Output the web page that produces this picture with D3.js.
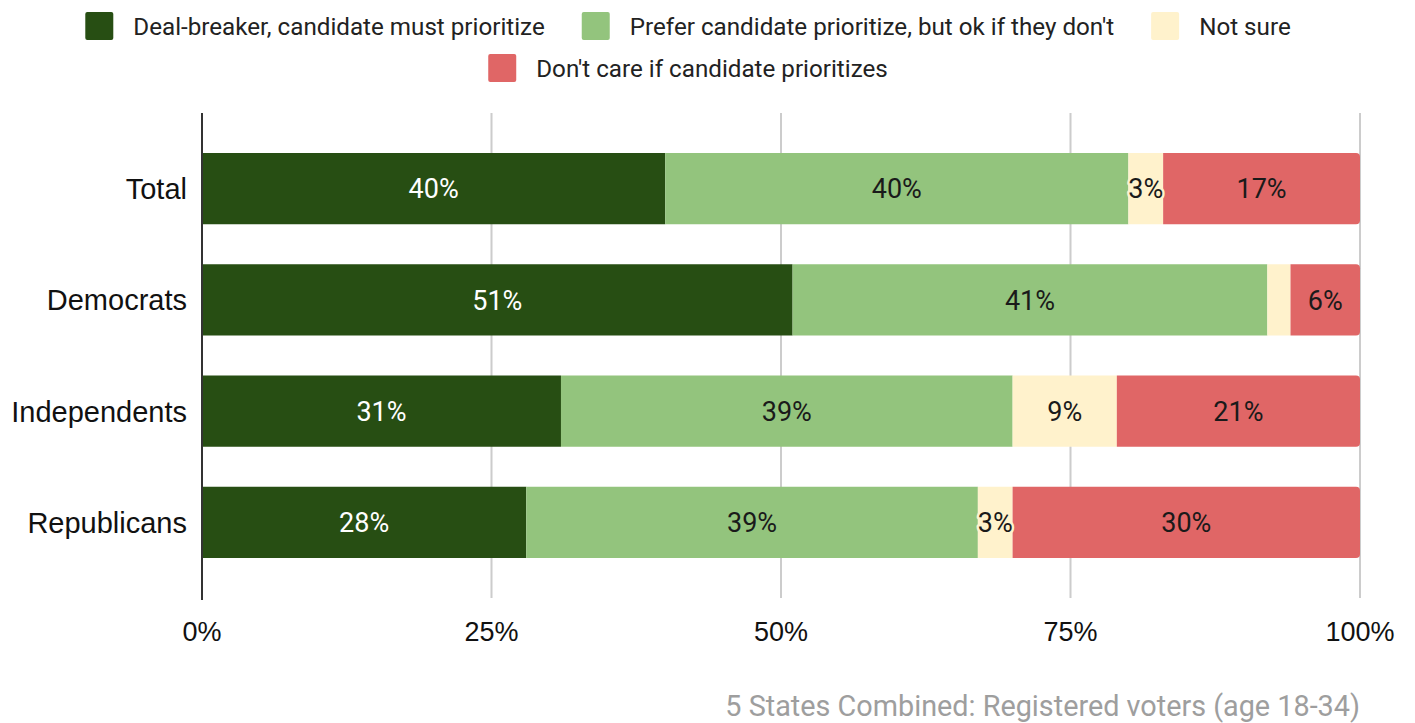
<!DOCTYPE html>
<html>
<head>
<meta charset="utf-8">
<script src="https://cdn.jsdelivr.net/npm/d3@7"></script>
<style>
  html, body { margin: 0; padding: 0; background: #fff; }
  svg { display: block; font-family: Roboto, "Noto Sans", sans-serif; }
</style>
</head>
<body>
<svg id="chart" width="1415" height="723"></svg>
<script>
// Survey groups (rows) and response options (stacked segments)
const groups = ["Total", "Democrats", "Independents", "Republicans"];
const seriesNames = [
  "Deal-breaker, candidate must prioritize",
  "Prefer candidate prioritize, but ok if they don't",
  "Not sure",
  "Don't care if candidate prioritizes"
];
const dealBreaker = [40, 51, 31, 28];
const preferPrioritize = [40, 41, 39, 39];
const notSure = [3, 2, 9, 3];
const dontCare = [17, 6, 21, 30];
const xTicks = [0, 25, 50, 75, 100];
const colors = ["#274e13", "#93c47d", "#fff2cc", "#e06666"];
const labelColors = ["#ffffff", "#1a1a1a", "#1a1a1a", "#1a1a1a"];
const footnote = "5 States Combined: Registered voters (age 18-34)";

const seriesValues = [dealBreaker, preferPrioritize, notSure, dontCare];
const rows = groups.map((g, i) => {
  const r = { group: g };
  seriesNames.forEach((s, k) => { r[s] = seriesValues[k][i]; });
  return r;
});
const stacked = d3.stack().keys(seriesNames)(rows);

const svg = d3.select("#chart");
const plotLeft = 202, plotRight = 1360, plotTop = 113, plotBottom = 598;
const axisFont = "Arial, 'Liberation Sans', sans-serif";

const x = d3.scaleLinear().domain([0, 100]).range([plotLeft, plotRight]);
const y = d3.scaleBand().domain(groups).range([plotTop, plotBottom]).paddingInner(0.36).paddingOuter(0.36);

// Vertical gridlines
svg.append("g").selectAll("line").data(xTicks.filter(t => t > 0)).join("line")
  .attr("x1", d => x(d)).attr("x2", d => x(d))
  .attr("y1", plotTop).attr("y2", plotBottom)
  .attr("stroke", "#cccccc").attr("stroke-width", 2);

// Bars
const radius = 4;
function segPath(x0, x1, y0, h, roundRight) {
  if (!roundRight) return `M${x0},${y0}H${x1}V${y0 + h}H${x0}Z`;
  const r = Math.min(radius, (x1 - x0));
  return `M${x0},${y0}H${x1 - r}Q${x1},${y0} ${x1},${y0 + r}V${y0 + h - r}Q${x1},${y0 + h} ${x1 - r},${y0 + h}H${x0}Z`;
}
const last = stacked.length - 1;
const layers = svg.append("g").selectAll("g").data(stacked).join("g")
  .attr("fill", (d, i) => colors[i]);
layers.each(function(layer, li) {
  d3.select(this).selectAll("path").data(layer).join("path")
    .attr("d", d => segPath(x(d[0]), x(d[1]), y(d.data.group), y.bandwidth(), li === last));
});

// Value labels
const labels = svg.append("g").attr("font-size", 27).attr("text-anchor", "middle");
stacked.forEach((layer, li) => {
  layer.forEach(d => {
    const v = d[1] - d[0];
    if (v < 3) return;
    const t = labels.append("text")
      .attr("x", (x(d[0]) + x(d[1])) / 2)
      .attr("y", y(d.data.group) + y.bandwidth() / 2)
      .attr("dy", "0.36em")
      .attr("fill", labelColors[li])
      .text(v + "%");
    if (li === 2) {
      t.attr("stroke", colors[2]).attr("stroke-width", 5)
        .attr("stroke-linejoin", "round").attr("paint-order", "stroke");
    }
  });
});

// Baseline axis at 0%
svg.append("line")
  .attr("x1", x(0)).attr("x2", x(0)).attr("y1", plotTop).attr("y2", plotBottom + 2)
  .attr("stroke", "#333333").attr("stroke-width", 2);

// X tick labels
svg.append("g").selectAll("text").data(xTicks).join("text")
  .attr("x", d => x(d)).attr("y", 631).attr("dy", "0.36em")
  .attr("text-anchor", "middle").attr("font-family", axisFont)
  .attr("font-size", 27).attr("fill", "#111111")
  .text(d => d + "%");

// Category labels
svg.append("g").selectAll("text").data(groups).join("text")
  .attr("x", 187).attr("y", d => y(d) + y.bandwidth() / 2).attr("dy", "0.36em")
  .attr("text-anchor", "end").attr("font-family", axisFont)
  .attr("font-size", 29).attr("fill", "#111111")
  .text(d => d);

// Legend (two centred rows)
const legendRows = [[0, 1, 2], [3]];
const legendY = [26, 68];
const legendCenter = 688;
const sw = 28, textGap = 20, itemGap = 37;
legendRows.forEach((row, ri) => {
  const g = svg.append("g");
  let cx = 0;
  row.forEach(k => {
    const item = g.append("g").attr("transform", `translate(${cx},0)`);
    item.append("rect").attr("x", 0).attr("y", legendY[ri] - sw / 2)
      .attr("width", sw).attr("height", sw).attr("rx", 2).attr("fill", colors[k]);
    const t = item.append("text").attr("x", sw + textGap).attr("y", legendY[ri]).attr("dy", "0.36em")
      .attr("font-size", 24.2).attr("fill", "#222222").text(seriesNames[k]);
    cx += sw + textGap + t.node().getComputedTextLength() + itemGap;
  });
  const w = cx - itemGap;
  g.attr("transform", `translate(${legendCenter - w / 2},0)`);
});

// Footnote
svg.append("text")
  .attr("x", 1360).attr("y", 716)
  .attr("text-anchor", "end").attr("font-size", 28.8).attr("fill", "#9e9e9e")
  .text(footnote);
</script>
</body>
</html>
